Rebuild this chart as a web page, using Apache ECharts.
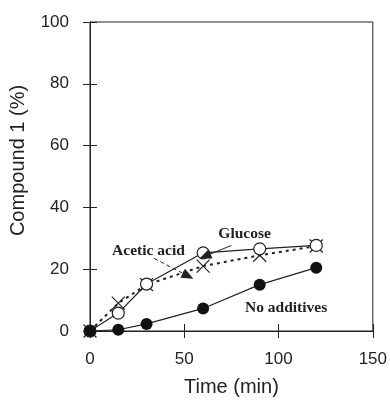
<!DOCTYPE html>
<html>
<head>
<meta charset="utf-8">
<script src="https://cdn.jsdelivr.net/npm/echarts@6/dist/echarts.min.js"></script>
<style>
  html, body { margin: 0; padding: 0; background: #fff; }
  #chart { width: 390px; height: 402px; }
</style>
</head>
<body>
<div id="chart"></div>
<script>
// sampling times (min)
const timeMin = [0, 15, 30, 60, 90, 120];
// compound 1 yield (%)
const noAdditives = [0, 0.4, 2.3, 7.3, 15, 20.5];
const glucose = [0, 5.8, 15.2, 25.3, 26.6, 27.7];
const aceticAcid = [0, 9, 15, 21, 24.5, 27.5];

const xTicks = [0, 50, 100, 150];
const yTicks = [0, 20, 40, 60, 80, 100];

// annotation texts and where they sit (data units)
const noteAcetic = { text: "Acetic acid", at: [31, 26], from: [34, 23.5], to: [52, 17.8] };
const noteGlucose = { text: "Glucose", at: [82, 31.5], from: [75, 27.7], to: [61, 24.2] };
const noteNone = { text: "No additives", at: [104, 7.4] };

const pair = (xs, ys) => xs.map((x, i) => [x, ys[i]]);

const chart = echarts.init(document.getElementById("chart"));

const labelFont = { fontFamily: "Liberation Sans, Arial, sans-serif", fontSize: 17, color: "#222" };
const noteFont = { fontFamily: "Liberation Serif, Times New Roman, serif", fontWeight: "bold", fontSize: 15.5, color: "#222" };

const textPoint = (note) => ({
    symbol: "circle",
    symbolSize: 1,
    silent: true,
    itemStyle: { color: "rgba(0,0,0,0)" },
    label: { show: true, position: "inside", formatter: note.text, ...noteFont },
    data: [{ coord: note.at, value: 0 }],
});

const crossX = "path://M0,0L10,10M10,0L0,10";

const option = {
    animation: false,
    backgroundColor: "#fff",
    grid: { left: 89, right: 13, top: 22, bottom: 69, show: true, borderColor: "#222", borderWidth: 1 },
    xAxis: [{
        type: "value", min: 0, max: 150, interval: 50,
        axisLine: { show: true, lineStyle: { color: "#222", width: 1 } },
        axisTick: { show: true, length: 7, lineStyle: { color: "#222" } },
        axisLabel: { margin: 20, ...labelFont, formatter: (v) => xTicks.includes(v) ? String(v) : "" },
        splitLine: { show: false },
        name: "Time (min)", nameLocation: "middle", nameGap: 46,
        nameTextStyle: { fontFamily: "Liberation Sans, Arial, sans-serif", fontSize: 20, color: "#222" },
    }, {
        type: "value", min: 0, max: 150, interval: 50, position: "bottom",
        axisLine: { show: false },
        axisTick: { show: true, inside: true, length: 7, lineStyle: { color: "#222" } },
        axisLabel: { show: false }, splitLine: { show: false },
    }],
    yAxis: [{
        type: "value", min: 0, max: 100, interval: 20,
        axisLine: { show: true, lineStyle: { color: "#222", width: 1 } },
        axisTick: { show: true, length: 7, lineStyle: { color: "#222" } },
        axisLabel: { margin: 21, ...labelFont, formatter: (v) => yTicks.includes(v) ? String(v) : "" },
        splitLine: { show: false },
        name: "Compound 1 (%)", nameLocation: "middle", nameGap: 62,
        nameTextStyle: { fontFamily: "Liberation Sans, Arial, sans-serif", fontSize: 20, color: "#222", padding: [0, 0, 0, 32] },
    }, {
        type: "value", min: 0, max: 100, interval: 20, position: "left",
        axisLine: { show: false },
        axisTick: { show: true, inside: true, length: 7, lineStyle: { color: "#222" } },
        axisLabel: { show: false }, splitLine: { show: false },
    }],
    series: [
        {
            name: "Acetic acid", type: "line", z: 2,
            data: pair(timeMin, aceticAcid),
            symbol: crossX, symbolSize: 13,
            itemStyle: { color: "none", borderColor: "#222", borderWidth: 1.2 },
            lineStyle: { color: "#222", width: 2, type: [3, 4] },
            markLine: {
                silent: true, symbol: ["none", "triangle"], symbolSize: [10, 12],
                lineStyle: { color: "#222", width: 1, type: [4, 3] },
                label: { show: false },
                data: [[{ coord: noteAcetic.from }, { coord: noteAcetic.to }]],
            },
            markPoint: textPoint(noteAcetic),
        },
        {
            name: "Glucose", type: "line", z: 3,
            data: pair(timeMin, glucose),
            symbol: "circle", symbolSize: 12,
            itemStyle: { color: "#fff", borderColor: "#222", borderWidth: 1.2 },
            lineStyle: { color: "#222", width: 1.2 },
            markLine: {
                silent: true, symbol: ["none", "triangle"], symbolSize: [10, 12],
                lineStyle: { color: "#222", width: 1, type: "solid" },
                label: { show: false },
                data: [[{ coord: noteGlucose.from }, { coord: noteGlucose.to }]],
            },
            markPoint: textPoint(noteGlucose),
        },
        {
            name: "No additives", type: "line", z: 4,
            data: pair(timeMin, noAdditives),
            symbol: "circle", symbolSize: 12,
            itemStyle: { color: "#111", borderColor: "#111", borderWidth: 0 },
            lineStyle: { color: "#222", width: 1.2 },
            markPoint: textPoint(noteNone),
        },
    ],
};

chart.setOption(option);
window.addEventListener("resize", () => chart.resize());
</script>
</body>
</html>
